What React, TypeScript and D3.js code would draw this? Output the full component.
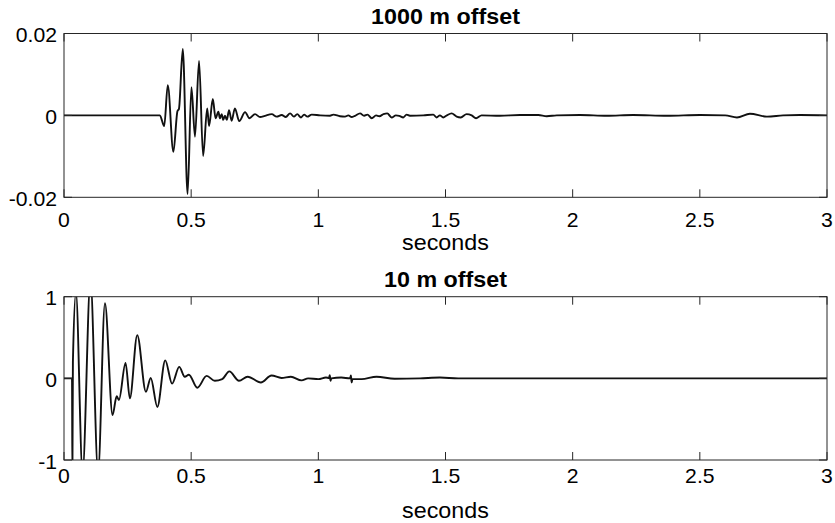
import React from "react";
import * as d3 from "d3";

// ---------- data ----------
const xTicks = [0, 0.5, 1, 1.5, 2, 2.5, 3];
const xTickLabels = ["0", "0.5", "1", "1.5", "2", "2.5", "3"];

const topTitle = "1000 m offset";
const topYTicks = [-0.02, 0, 0.02];
const topYTickLabels = ["-0.02", "0", "0.02"];
const topTimes = [
  0, 0.377, 0.394, 0.408, 0.43, 0.446, 0.452, 0.467, 0.486, 0.501, 0.515, 0.531, 0.547, 0.563, 0.5705,
  0.585, 0.596, 0.607, 0.613, 0.62, 0.626, 0.633, 0.64, 0.649, 0.659, 0.672, 0.689, 0.712, 0.729, 0.751,
  0.771, 0.79, 0.817, 0.836, 0.856, 0.872, 0.889, 0.904, 0.917, 0.932, 0.944, 0.957, 0.974, 1.007, 1.046,
  1.059, 1.085, 1.105, 1.118, 1.131, 1.144, 1.164, 1.18, 1.193, 1.21, 1.227, 1.24, 1.256, 1.271, 1.288,
  1.305, 1.318, 1.334, 1.347, 1.36, 1.413, 1.452, 1.465, 1.478, 1.491, 1.505, 1.524, 1.544, 1.56, 1.583,
  1.603, 1.62, 1.642, 1.714, 1.793, 1.865, 1.898, 1.937, 2.029, 2.134, 2.237, 2.371, 2.501, 2.6, 2.646,
  2.697, 2.764, 2.827, 2.894, 3.0,
];
const topValues = [
  0, 0, -0.0026, 0.0074, -0.0089, 0.001, 0.0016, 0.0162, -0.0192, 0.0069, -0.0052, 0.0133, -0.0099, 0.0017, -0.0026,
  0.004, -0.0007, 0.0009, -0.0007, 0.0003, -0.0011, -0.0001, -0.0011, 0.0013, -0.0013, 0.0017, -0.0014, 0.0008, -0.0007, 0.0003,
  -0.0004, -0.0001, 0.0003, -0.0003, 0.0001, -0.0004, 0.0005, -0.0003, 0.0003, -0.0005, 0.0002, -0.0003, 0.0002, 0, -0.0001,
  0.0002, -0.0002, -0.0003, 0, -0.0004, -0.0001, 0.0005, -0.0001, 0.0002, -0.0007, 0, -0.0002, 0.0003, 0.0005, -0.0005,
  0, -0.0001, -0.0005, 0.0002, -0.0001, 0, 0.0002, -0.0005, 0, -0.0005, 0, 0.0005, -0.0003, -0.0005, 0.0003,
  0, -0.0007, 0, -0.0001, 0.0001, 0.0001, -0.0002, 0, 0.0001, -0.0001, 0.0001, -0.0001, 0.0001, 0, -0.0005,
  0.0004, -0.0003, 0, 0.0001, 0,
];

const bottomTitle = "10 m offset";
const bottomYTicks = [-1, 0, 1];
const bottomYTickLabels = ["-1", "0", "1"];
const bottomTimes = [
  0, 0.0315, 0.033, 0.035, 0.047, 0.073, 0.104, 0.134, 0.161, 0.191, 0.207, 0.216, 0.242, 0.259, 0.288,
  0.322, 0.341, 0.367, 0.398, 0.425, 0.453, 0.475, 0.491, 0.524, 0.561, 0.593, 0.622, 0.65, 0.688, 0.722,
  0.774, 0.816, 0.855, 0.892, 0.934, 0.96, 1.0, 1.03, 1.042, 1.045, 1.048, 1.051, 1.09, 1.125, 1.128,
  1.131, 1.134, 1.17, 1.229, 1.3, 1.4, 1.478, 1.55, 1.7, 2.0, 3.0,
];
const bottomValues = [
  0, 0, -1.2, 0.2, 1.05, -1.15, 1.2, -1.15, 0.92, -0.45, -0.22, -0.265, 0.19, -0.245, 0.53,
  -0.165, 0.005, -0.35, 0.22, -0.065, 0.14, 0.02, 0.045, -0.115, 0.03, -0.03, -0.01, 0.085, -0.03, 0.02,
  -0.05, 0.035, 0.005, 0.02, -0.025, 0, -0.01, 0.01, 0.005, 0.04, -0.03, 0, 0.01, 0, 0.035,
  -0.05, -0.01, -0.01, 0.02, -0.005, 0, 0.01, 0, 0, 0, 0,
];

const xLabel = "seconds";

// ---------- layout ----------
const W = 835;
const H = 523;
const LEFT = 64;
const RIGHT = 827;
const FONT = "'Liberation Sans', Arial, Helvetica, sans-serif";
const AXIS_COLOR = "#262626";
const SX = 1.06;

type PanelProps = {
  id: string;
  top: number;
  bottom: number;
  times: number[];
  values: number[];
  yDomain: [number, number];
  yTicks: number[];
  yTickLabels: string[];
  title: string;
  titleY: number;
  tickLabelY: number;
  xLabelY: number;
};

function SText(props: { x: number; y: number; anchor: string; size: number; bold?: boolean; children: React.ReactNode }) {
  return (
    <text
      transform={`translate(${props.x},${props.y}) scale(${SX},1)`}
      textAnchor={props.anchor as any}
      fontSize={props.size}
      fontWeight={props.bold ? "bold" : "normal"}
      fontFamily={FONT}
      fill="#000"
    >
      {props.children}
    </text>
  );
}

function Panel(p: PanelProps) {
  const x = d3.scaleLinear().domain([0, 3]).range([LEFT, RIGHT]);
  const y = d3.scaleLinear().domain(p.yDomain).range([p.bottom, p.top]);
  const pts: [number, number][] = p.times.map((t, i) => [t, p.values[i]]);
  const line = d3
    .line<[number, number]>()
    .x((d) => x(d[0]))
    .y((d) => y(d[1]))
    .curve(d3.curveMonotoneX);
  const tickLen = 8;
  return (
    <g>
      <defs>
        <clipPath id={p.id}>
          <rect x={LEFT} y={p.top} width={RIGHT - LEFT} height={p.bottom - p.top} />
        </clipPath>
      </defs>
      <rect x={LEFT} y={p.top} width={RIGHT - LEFT} height={p.bottom - p.top} fill="#fff" />
      <path d={line(pts) || ""} fill="none" stroke="#111" strokeWidth={1.9} strokeLinejoin="round" clipPath={`url(#${p.id})`} />
      {/* box */}
      <rect x={LEFT} y={p.top} width={RIGHT - LEFT} height={p.bottom - p.top} fill="none" stroke={AXIS_COLOR} strokeWidth={1} />
      {/* x ticks */}
      {xTicks.map((t, i) => (
        <g key={"xt" + i}>
          <line x1={x(t)} x2={x(t)} y1={p.bottom} y2={p.bottom - tickLen} stroke={AXIS_COLOR} strokeWidth={1} />
          <line x1={x(t)} x2={x(t)} y1={p.top} y2={p.top + tickLen} stroke={AXIS_COLOR} strokeWidth={1} />
          <SText x={x(t)} y={p.tickLabelY} anchor="middle" size={20}>
            {xTickLabels[i]}
          </SText>
        </g>
      ))}
      {/* y ticks */}
      {p.yTicks.map((v, i) => (
        <g key={"yt" + i}>
          <line x1={LEFT} x2={LEFT + tickLen} y1={y(v)} y2={y(v)} stroke={AXIS_COLOR} strokeWidth={1} />
          <line x1={RIGHT} x2={RIGHT - tickLen} y1={y(v)} y2={y(v)} stroke={AXIS_COLOR} strokeWidth={1} />
          <SText x={57} y={y(v) + 8.5} anchor="end" size={20}>
            {p.yTickLabels[i]}
          </SText>
        </g>
      ))}
      <SText x={(LEFT + RIGHT) / 2} y={p.titleY} anchor="middle" size={22} bold>
        {p.title}
      </SText>
      <SText x={(LEFT + RIGHT) / 2} y={p.xLabelY} anchor="middle" size={22}>
        {xLabel}
      </SText>
    </g>
  );
}

export default function App() {
  return (
    <svg
      width={W}
      height={H}
      viewBox={`0 0 ${W} ${H}`}
      style={{ position: "absolute", left: 0, top: 0, display: "block", background: "#fff" }}
    >
      <rect x={0} y={0} width={W} height={H} fill="#fff" />
      <Panel
        id="clipTop"
        top={33.5}
        bottom={197.3}
        times={topTimes}
        values={topValues}
        yDomain={[-0.02, 0.02]}
        yTicks={topYTicks}
        yTickLabels={topYTickLabels}
        title={topTitle}
        titleY={24}
        tickLabelY={226.7}
        xLabelY={250}
      />
      <Panel
        id="clipBottom"
        top={296.7}
        bottom={460}
        times={bottomTimes}
        values={bottomValues}
        yDomain={[-1, 1]}
        yTicks={bottomYTicks}
        yTickLabels={bottomYTickLabels}
        title={bottomTitle}
        titleY={287.3}
        tickLabelY={482.7}
        xLabelY={518.3}
      />
    </svg>
  );
}
